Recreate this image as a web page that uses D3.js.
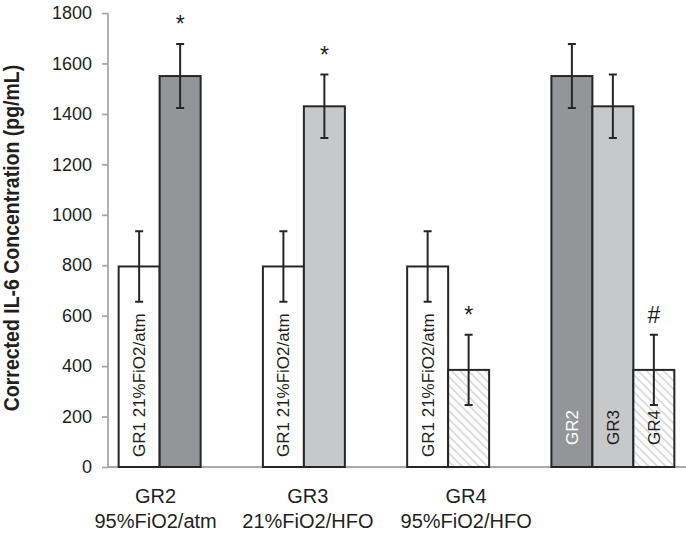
<!DOCTYPE html>
<meta charset="utf-8">
<style>
body { margin: 0; background: #fff; }
text { font-family: "Liberation Sans", Arial, sans-serif; fill: #231f20; }
</style>
<body>
<script src="https://cdn.jsdelivr.net/npm/d3@7"></script>
<script>
// series values (mean and error)
var seriesNames = ["GR1", "GR2", "GR3", "GR4"];
var seriesMean = [795, 1550, 1430, 385];
var seriesErr = [140, 127, 126, 139];

// which series sit in each cluster
var groupNames = ["GR2 95%FiO2/atm", "GR3 21%FiO2/HFO", "GR4 95%FiO2/HFO", "all"];
var groupMembers = [["GR1", "GR2"], ["GR1", "GR3"], ["GR1", "GR4"], ["GR2", "GR3", "GR4"]];
var groupLine1 = ["GR2", "GR3", "GR4", ""];
var groupLine2 = ["95%FiO2/atm", "21%FiO2/HFO", "95%FiO2/HFO", ""];
var barLabels = [["GR1 21%FiO2/atm", ""], ["GR1 21%FiO2/atm", ""], ["GR1 21%FiO2/atm", ""], ["GR2", "GR3", "GR4"]];
var barMarks = [["", "*"], ["", "*"], ["", "*"], ["", "", "#"]];

var yTicks = [0, 200, 400, 600, 800, 1000, 1200, 1400, 1600, 1800];

var W = 686, H = 535;
var fills = {GR1: "#ffffff", GR2: "#939598", GR3: "#c7c8ca", GR4: "url(#hatch)"};

var svg = d3.select("body").append("svg").attr("width", W).attr("height", H);

var pat = svg.append("defs").append("pattern")
    .attr("id", "hatch").attr("patternUnits", "userSpaceOnUse")
    .attr("width", 6).attr("height", 6)
    .attr("patternTransform", "rotate(45)");
pat.append("rect").attr("width", 6).attr("height", 6).attr("fill", "#fff");
pat.append("line").attr("x1", 0).attr("y1", 3).attr("x2", 6).attr("y2", 3)
    .attr("stroke", "#d9d9d9").attr("stroke-width", 1.8);

var y = d3.scaleLinear().domain([0, 1800]).range([467, 13]);
var x = d3.scaleBand().domain(groupNames).range([108, 685]);
var slot = d3.scaleBand().domain([0, 1, 2]).range([0, x.bandwidth()]).paddingOuter(0.26);

// axes
var yAxis = svg.append("g").attr("transform", "translate(108,0)")
    .call(d3.axisLeft(y).tickValues(yTicks).tickFormat(d3.format("d")).tickSize(6).tickPadding(10));
yAxis.selectAll("line, path").attr("stroke", "#a7a9ac").attr("stroke-width", 1.8);
yAxis.select(".domain").attr("d", "M0," + y(1800) + "V" + y(0));
yAxis.selectAll("text").attr("font-size", 18).attr("fill", "#231f20")
    .attr("font-family", "Liberation Sans, Arial, sans-serif");

svg.append("line").attr("x1", 108).attr("x2", W).attr("y1", y(0)).attr("y2", y(0))
    .attr("stroke", "#a7a9ac").attr("stroke-width", 2);

// title glyphs are a bit wide in the original, so stretch them sideways
svg.append("text")
    .attr("transform", "translate(19," + 238 + ") rotate(-90) scale(1,1.15)")
    .attr("text-anchor", "middle").attr("font-size", 19.5).attr("font-weight", "bold")
    .text("Corrected IL-6 Concentration (pg/mL)");

// bars
var labelNudge = [-4, 4, 18, 0];
groupNames.forEach(function(g, gi) {
  var g0 = x(g);
  groupMembers[gi].forEach(function(s, k) {
    var si = seriesNames.indexOf(s);
    var m = seriesMean[si], e = seriesErr[si];
    var bx = g0 + slot(k), bw = slot.bandwidth(), cx = bx + bw / 2;
    svg.append("rect").attr("x", bx).attr("y", y(m)).attr("width", bw).attr("height", y(0) - y(m))
        .attr("fill", fills[s]).attr("stroke", "#262626").attr("stroke-width", 2);
    // error bar
    svg.append("path")
        .attr("d", "M" + cx + "," + y(m + e) + "V" + y(m - e) +
                   "M" + (cx - 4) + "," + y(m + e) + "H" + (cx + 4) +
                   "M" + (cx - 4) + "," + y(m - e) + "H" + (cx + 4))
        .attr("stroke", "#262626").attr("stroke-width", 2).attr("fill", "none");
    if (barMarks[gi][k]) {
      svg.append("text").attr("x", cx).attr("y", y(m + e) - 12)
          .attr("text-anchor", "middle").attr("font-size", 23).text(barMarks[gi][k]);
    }
    if (barLabels[gi][k]) {
      var start = gi < 3 ? y(0) - 10 : y(0) - 22;
      svg.append("text")
          .attr("transform", "translate(" + cx + "," + start + ") rotate(-90)")
          .attr("dy", "0.35em").attr("font-size", 17)
          .style("fill", s === "GR2" ? "#ffffff" : "#231f20")
          .text(barLabels[gi][k]);
    }
  });
  if (groupLine1[gi]) {
    var lx = g0 + slot(0) + slot.bandwidth() + labelNudge[gi];
    svg.append("text").attr("x", lx).attr("y", 503).attr("text-anchor", "middle")
        .attr("font-size", 20).text(groupLine1[gi]);
    svg.append("text").attr("x", lx).attr("y", 528).attr("text-anchor", "middle")
        .attr("font-size", 20).text(groupLine2[gi]);
  }
});
</script>
